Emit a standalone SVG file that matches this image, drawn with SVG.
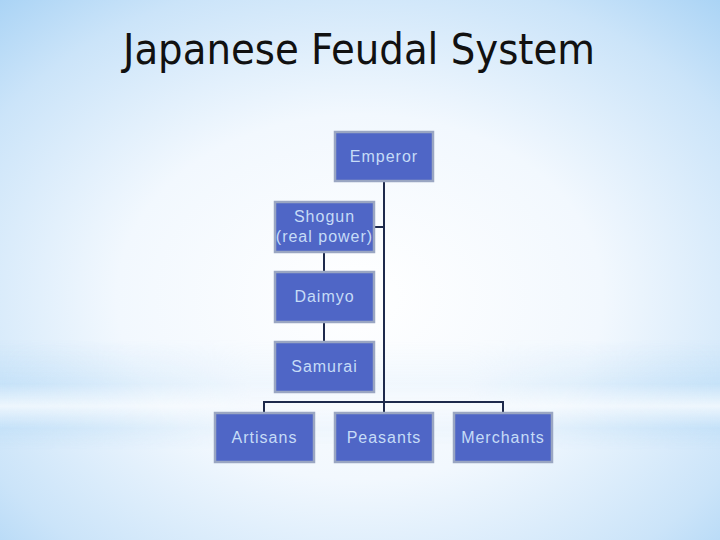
<svg xmlns="http://www.w3.org/2000/svg" width="720" height="540" viewBox="0 0 720 540">
<defs>
<radialGradient id="bg" cx="0.5" cy="0.55" r="0.75">
<stop offset="0" stop-color="#ffffff"/>
<stop offset="0.45" stop-color="#f2f8fe"/>
<stop offset="0.8" stop-color="#cbe4f9"/>
<stop offset="1" stop-color="#a9d3f5"/>
</radialGradient>
<linearGradient id="band" x1="0" y1="0" x2="0" y2="1">
<stop offset="0" stop-color="#b9dcf7" stop-opacity="0"/>
<stop offset="0.4" stop-color="#b9dcf7" stop-opacity="0.55"/>
<stop offset="0.6" stop-color="#ffffff" stop-opacity="0.6"/>
<stop offset="0.8" stop-color="#b9dcf7" stop-opacity="0.5"/>
<stop offset="1" stop-color="#b9dcf7" stop-opacity="0"/>
</linearGradient>
<linearGradient id="bandMask" x1="0" y1="0" x2="1" y2="0">
<stop offset="0" stop-color="#fff" stop-opacity="1"/>
<stop offset="0.35" stop-color="#fff" stop-opacity="0.2"/>
<stop offset="0.65" stop-color="#fff" stop-opacity="0.2"/>
<stop offset="1" stop-color="#fff" stop-opacity="1"/>
</linearGradient>
<mask id="m"><rect x="0" y="0" width="720" height="540" fill="url(#bandMask)"/></mask>
<style>
.box{fill:#4f66c6;stroke:#9aa6c2;stroke-width:2.5}
.lbl{font-family:"Liberation Sans",Arial,sans-serif;font-size:16px;fill:#c6dcf7;text-anchor:middle;letter-spacing:1px}
.con{stroke:#1e2a4c;stroke-width:2;fill:none}
</style>
</defs>
<rect width="720" height="540" fill="url(#bg)"/>
<rect x="0" y="340" width="720" height="110" fill="url(#band)" mask="url(#m)"/>
<text x="359" y="64" font-family="'Liberation Sans Narrow','DejaVu Sans Condensed','Liberation Sans',sans-serif" font-size="42" fill="#111" text-anchor="middle" textLength="472" lengthAdjust="spacingAndGlyphs">Japanese Feudal System</text>
<g id="connectors">
<path class="con" d="M384 181 V413"/>
<path class="con" d="M374 227 H384"/>
<path class="con" d="M324 252 V272"/>
<path class="con" d="M324 322 V342"/>
<path class="con" d="M264 413 V402 H503 V413"/>
</g>
<g id="emperor"><rect class="box" x="335" y="132" width="98" height="49"/><text class="lbl" x="384" y="162">Emperor</text></g>
<g id="shogun"><rect class="box" x="275" y="202" width="99" height="50"/><text class="lbl" x="324.5" y="222">Shogun</text><text class="lbl" x="324.5" y="242" letter-spacing="0.5">(real power)</text></g>
<g id="daimyo"><rect class="box" x="275" y="272" width="99" height="50"/><text class="lbl" x="324.5" y="302">Daimyo</text></g>
<g id="samurai"><rect class="box" x="275" y="342" width="99" height="50"/><text class="lbl" x="324.5" y="372">Samurai</text></g>
<g id="artisans"><rect class="box" x="215" y="413" width="99" height="49"/><text class="lbl" x="264.5" y="443">Artisans</text></g>
<g id="peasants"><rect class="box" x="335" y="413" width="98" height="49"/><text class="lbl" x="384" y="443">Peasants</text></g>
<g id="merchants"><rect class="box" x="454" y="413" width="98" height="49"/><text class="lbl" x="503" y="443">Merchants</text></g>
</svg>
